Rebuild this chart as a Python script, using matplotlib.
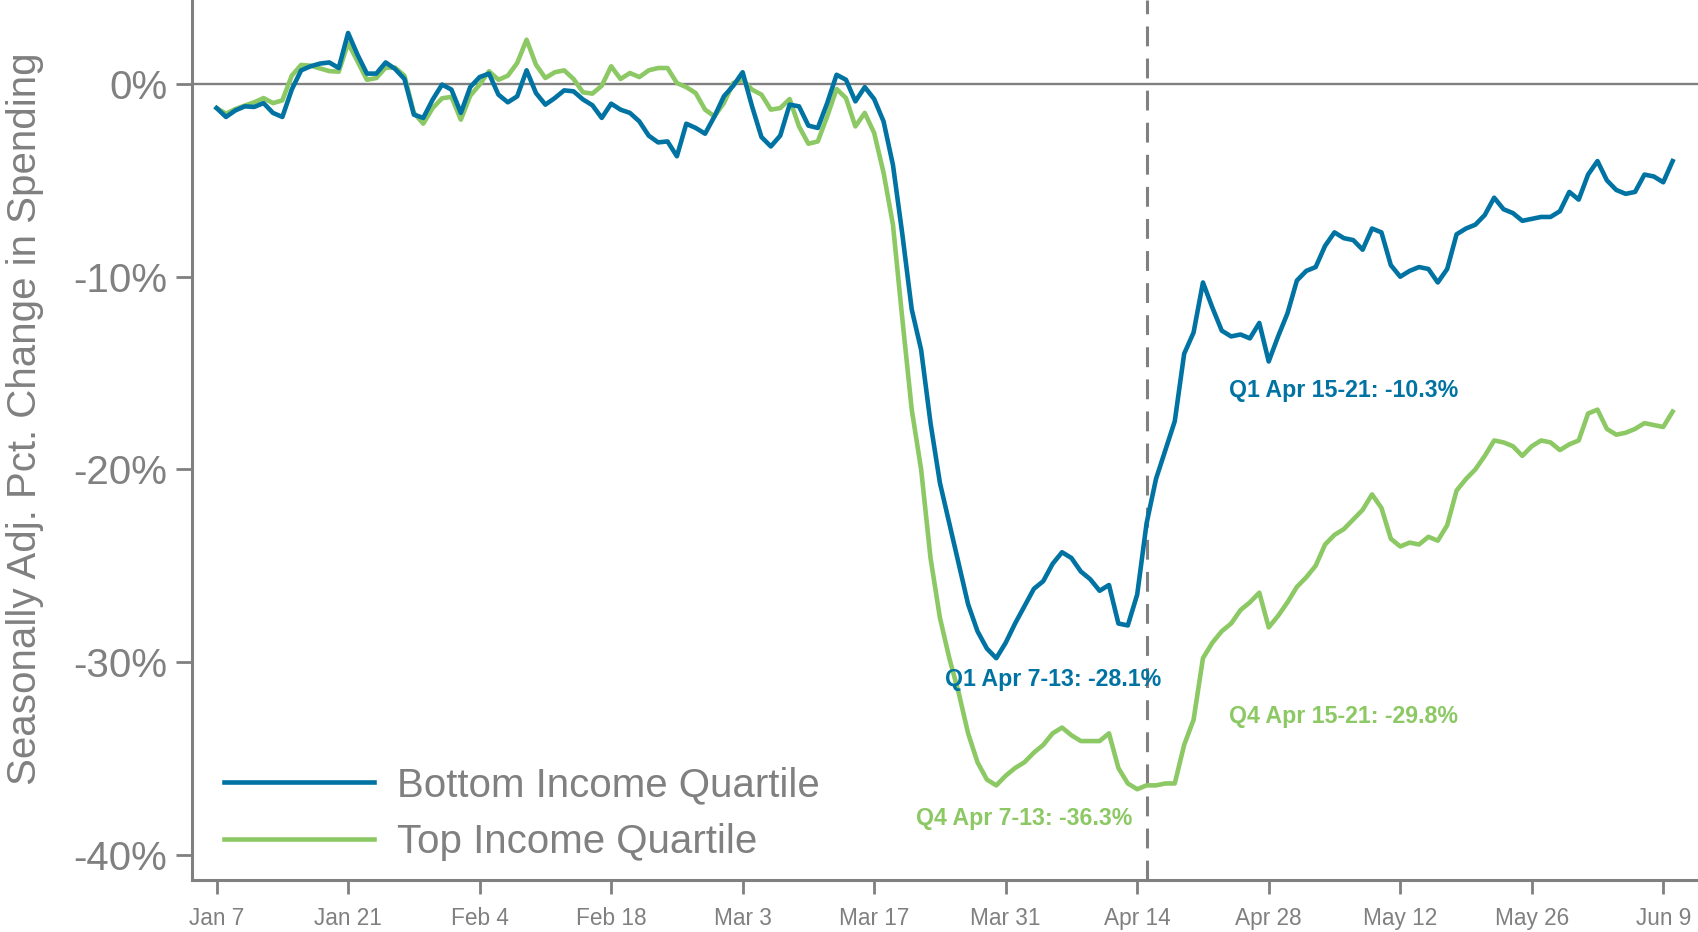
import numpy as np
import pandas as pd
import matplotlib
matplotlib.use("Agg")
import matplotlib.pyplot as plt
import matplotlib.dates as mdates

plt.rcParams["font.family"] = ["Liberation Sans", "DejaVu Sans"]

# daily series, Jan 7 2020 onwards (seasonally adj. % change in spending)
start_date = "2020-01-07"

bottom_quartile = [
    -1.25, -1.71, -1.37, -1.16, -1.19, -0.99, -1.5, -1.71, -0.29, 0.71,
    0.92, 1.06, 1.12, 0.83, 2.65, 1.52, 0.54, 0.54, 1.12, 0.78,
    0.26, -1.59, -1.76, -0.81, -0.03, -0.29, -1.5, -0.16, 0.36, 0.54,
    -0.55, -0.95, -0.64, 0.71, -0.47, -1.07, -0.73, -0.33, -0.38, -0.8,
    -1.1, -1.76, -1.02, -1.33, -1.5, -1.94, -2.68, -3.03, -2.98, -3.75,
    -2.06, -2.28, -2.58, -1.68, -0.64, -0.09, 0.61, -1.16, -2.75, -3.24,
    -2.68, -1.07, -1.16, -2.16, -2.28, -0.99, 0.48, 0.22, -0.9, -0.16,
    -0.78, -1.94, -4.2, -7.8, -11.7, -13.8, -17.6, -20.7, -22.8, -24.9,
    -27.0, -28.4, -29.3, -29.8, -29.0, -28.0, -27.1, -26.2, -25.8, -24.9,
    -24.3, -24.6, -25.3, -25.7, -26.3, -26.0, -28.0, -28.1, -26.5, -22.8,
    -20.5, -19.0, -17.5, -14.0, -12.9, -10.3, -11.6, -12.8, -13.1, -13.0,
    -13.2, -12.4, -14.4, -13.1, -11.9, -10.2, -9.7, -9.5, -8.4, -7.7,
    -8.0, -8.1, -8.6, -7.5, -7.7, -9.4, -10.0, -9.7, -9.5, -9.6,
    -10.3, -9.6, -7.8, -7.5, -7.3, -6.8, -5.9, -6.5, -6.7, -7.1,
    -7.0, -6.9, -6.9, -6.6, -5.6, -6.0, -4.7, -4.0, -5.0, -5.5,
    -5.7, -5.6, -4.7, -4.8, -5.1, -4.0,
]

top_quartile = [
    -1.25, -1.54, -1.30, -1.12, -0.95, -0.73, -0.99, -0.85, 0.43, 0.99,
    0.95, 0.81, 0.67, 0.64, 2.13, 1.18, 0.22, 0.31, 0.85, 0.85,
    0.43, -1.5, -2.06, -1.25, -0.74, -0.67, -1.85, -0.61, -0.03, 0.66,
    0.22, 0.43, 1.09, 2.30, 1.0, 0.31, 0.61, 0.71, 0.26, -0.43,
    -0.5, -0.09, 0.92, 0.26, 0.57, 0.36, 0.71, 0.83, 0.83, 0.05,
    -0.16, -0.47, -1.33, -1.68, -0.99, 0.05, 0.22, -0.29, -0.55, -1.33,
    -1.25, -0.78, -2.2, -3.1, -2.98, -1.68, -0.26, -0.73, -2.2, -1.5,
    -2.54, -4.6, -7.3, -12.2, -16.9, -20.0, -24.6, -27.7, -29.8, -31.6,
    -33.7, -35.2, -36.1, -36.4, -35.9, -35.5, -35.2, -34.7, -34.3, -33.7,
    -33.4, -33.8, -34.1, -34.1, -34.1, -33.7, -35.5, -36.3, -36.6, -36.4,
    -36.4, -36.3, -36.3, -34.3, -33.0, -29.8, -29.0, -28.4, -28.0, -27.3,
    -26.9, -26.4, -28.2, -27.6, -26.9, -26.1, -25.6, -25.0, -23.9, -23.4,
    -23.1, -22.6, -22.1, -21.3, -22.0, -23.6, -24.0, -23.8, -23.9, -23.5,
    -23.7, -22.9, -21.1, -20.5, -20.0, -19.3, -18.5, -18.6, -18.8, -19.3,
    -18.8, -18.5, -18.6, -19.0, -18.7, -18.5, -17.1, -16.9, -17.9, -18.2,
    -18.1, -17.9, -17.6, -17.7, -17.8, -17.0,
]

tick_dates = ["2020-01-07", "2020-01-21", "2020-02-04", "2020-02-18", "2020-03-03",
              "2020-03-17", "2020-03-31", "2020-04-14", "2020-04-28", "2020-05-12",
              "2020-05-26", "2020-06-09"]
tick_labels = ["Jan 7", "Jan 21", "Feb 4", "Feb 18", "Mar 3", "Mar 17", "Mar 31",
               "Apr 14", "Apr 28", "May 12", "May 26", "Jun 9"]
y_ticks = [0, -10, -20, -30, -40]
y_labels = ["0%", "-10%", "-20%", "-30%", "-40%"]

stimulus_date = "2020-04-15"
notes = [
    ("Q1 Apr 7-13: -28.1%", "2020-04-05", -30.9, "blue"),
    ("Q4 Apr 7-13: -36.3%", "2020-04-02", -38.1, "green"),
    ("Q1 Apr 15-21: -10.3%", "2020-05-06", -15.9, "blue"),
    ("Q4 Apr 15-21: -29.8%", "2020-05-06", -32.8, "green"),
]

BLUE = "#0073a3"
GREEN = "#8cc864"
GREY = "#808080"

dates = pd.date_range(start_date, periods=len(bottom_quartile), freq="D")

fig = plt.figure(figsize=(16.98, 9.32), dpi=100)
ax = fig.add_axes([0.1129, 0.0554, 0.8871, 0.9446])

ax.axhline(0, color=GREY, lw=1.7, zorder=1)
ax.axvline(pd.Timestamp(stimulus_date), color=GREY, lw=2.2, dashes=(6.5, 4), zorder=1)

ax.plot(dates, bottom_quartile, color=BLUE, lw=3.3, label="Bottom Income Quartile", zorder=3)
ax.plot(dates, top_quartile, color=GREEN, lw=3.3, label="Top Income Quartile", zorder=2)

colors = {"blue": BLUE, "green": GREEN}
for text, d, y, c in notes:
    ax.text(pd.Timestamp(d), y, text, color=colors[c], fontsize=16.7,
            fontweight="bold", ha="center", va="center")

t0 = pd.Timestamp(start_date)
ax.set_xlim(t0 - pd.Timedelta(days=2.65), t0 + pd.Timedelta(days=157.7))
ax.set_ylim(-41.33, 4.36)

ax.set_xticks([pd.Timestamp(d) for d in tick_dates])
ax.set_xticklabels(tick_labels)
ax.set_yticks(y_ticks)
ax.set_yticklabels(y_labels)

ax.tick_params(axis="x", colors=GREY, labelsize=16.3, length=10, width=2, pad=9,
               labelcolor=GREY)
ax.tick_params(axis="y", colors=GREY, labelsize=29, length=11.5, width=2, pad=6,
               labelcolor=GREY)

for side in ["top", "right"]:
    ax.spines[side].set_visible(False)
for side in ["left", "bottom"]:
    ax.spines[side].set_color(GREY)
    ax.spines[side].set_linewidth(2.2)

ax.set_ylabel("Seasonally Adj. Pct. Change in Spending", fontsize=29, color=GREY)
ax.yaxis.set_label_coords(-0.098, 0.5245)

ax.legend(loc="upper left", bbox_to_anchor=(224 / 1698, 1 - 766 / 932),
          bbox_transform=fig.transFigure, frameon=False, fontsize=29,
          labelcolor=GREY, handlelength=3.72, handletextpad=0.57,
          borderpad=0, borderaxespad=0, labelspacing=0.47)

fig.savefig("out.png", dpi=100)
